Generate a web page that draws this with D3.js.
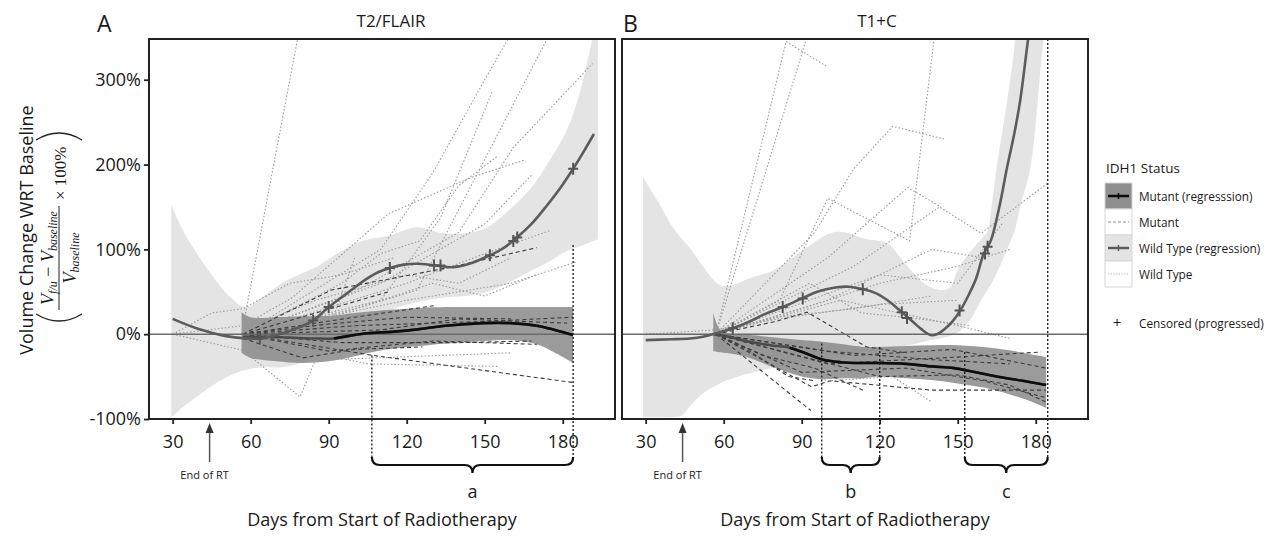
<!DOCTYPE html>
<html>
<head>
<meta charset="utf-8">
<title>Volume change by IDH1 status</title>
<script src="https://cdnjs.cloudflare.com/ajax/libs/d3/7.8.5/d3.min.js"></script>
<style>
    body { margin: 0; background: #fff; }
    svg text { font-family: "Open Sans", "Noto Sans", sans-serif; fill: #1a1a1a; }
</style>
</head>
<body>
<svg id="chart" width="1269" height="536"></svg>
<script>
// axis ticks
var xTicks = [30, 60, 90, 120, 150, 180];
var yTicks = [-100, 0, 100, 200, 300];
var yTickLabels = ['-100%', '0%', '100%', '200%', '300%'];

var panelLetters = ['A', 'B'];
var panelTitles = ['T2/FLAIR', 'T1+C'];
var endOfRT = 44.2;

// ---- panel A : T2/FLAIR ----  [day, percent]
var wtFitA = [[30,18],[40,6],[50,-2],[58,-5],[64,-5],[70,-1],[77,6],[84,16],[90,32],[97,48],[104,64],[109,73],[113.5,78],[119,82],[124,83],[131,81],[138,79],[145,84],[152,93],[157,101],[162,113],[168,130],[174,152],[179,172],[184,195],[188,215],[192,236]];
// [day, lower, upper]
var wtBandA = [[29.5,-98,153],[33.5,-87,125],[40,-72,92],[46.5,-58,64],[52,-49,44],[58,-42,32],[65,-39,45],[72,-39,60],[80,-33,72],[85,-25,79],[95,-5,98],[103,12,110],[113,28,116],[124,38,126],[134,43,119],[145,46,120],[151,50,126],[160,62,148],[168,75,173],[175,86,205],[181.5,98,240],[187,104,290],[193.5,112,380]];
var mutFitA = [[57,-3],[65,-3],[75,-4],[85,-5],[92,-5],[98,-2],[105,1],[115,3],[125,6],[135,10],[149,13],[160,13],[170,10],[177,5],[184,-1]];
var mutBandA = [[56.5,-22,26],[60,-28,20],[70,-32,20],[80,-34,21],[92,-31,22],[100,-26,25],[107,-21,27],[115,-17,29],[125,-14,31],[135,-11,32],[150,-8,32],[160,-7,32],[170,-12,32],[177,-22,32],[184,-34,32]];
var censorA = [[63.5,-5],[84,16],[90,32],[113.5,78],[130.5,81],[133,81],[152,93],[161,110],[162.5,114],[184,195]];
var wtLinesA = [
    [[56.5,0],[80,380]],
    [[30,0],[57,-19],[79,-74],[93,30],[100,90]],
    [[30,0],[57,10],[76,43],[113,142],[145,185],[165,205]],
    [[57,0],[90,20],[124,52],[176,360]],
    [[57,0],[90,25],[110,40],[133,137],[153,287]],
    [[57,0],[100,50],[140,120],[161,220],[191.5,319]],
    [[57,0],[110,60],[150,130],[168.5,189]],
    [[57,0],[120,60],[150,95],[175,122]],
    [[57,5],[85,40],[120,70],[140,60],[160,90]],
    [[57,0],[90,-30],[160,-22]],
    [[57,-5],[105,-35],[155,-38]],
    [[30,0],[45,25],[57,30],[75,60],[95,70],[115,90]],
    [[57,0],[95,60],[110,95],[125,110],[140,175],[155,210]],
    [[57,0],[120,40],[160,60],[185,85]],
    [[57,0],[110,100],[130,190],[150,300],[165,380]],
    [[57,0],[100,30],[130,60],[150,45],[170,70]]
];
var mutLinesA = [
    [[57,0],[107,-25],[184,-57]],
    [[57,0],[91,52],[137,79],[170,102]],
    [[57,0],[113,50]],
    [[57,0],[100,20],[131.5,34]],
    [[57,0],[110,5],[140,18],[181.6,13]],
    [[57,0],[95,-10],[140,-10],[168,-8]],
    [[57,0],[90,-20],[130,-8],[170,-12]],
    [[57,-5],[80,-28],[100,-18],[126,-15]],
    [[57,0],[100,10],[150,15],[184,20]],
    [[57,0],[90,12],[120,20],[160,18]]
];
// [day, percent where the dotted guide starts]
var guidesA = [[106.6,-25],[184,105]];
var bracesA = [[106.6,184,'a']];

// ---- panel B : T1+C ----
var wtFitB = [[30,-7],[40,-6],[47,-5],[52,-3],[57,1],[63.5,7],[70,15],[76,24],[82.7,32],[90,42],[96,50],[103,55],[108,56],[113.5,53],[118,49],[123,40],[127,30],[130,22],[133,14],[136,6],[139.6,-1],[142,0],[145,6],[148,15],[151,28],[154,45],[157,65],[160,95],[162.7,110],[166,150],[169,197],[172,240],[174,275],[177,346],[179,390]];
var wtBandB = [[29,-98,185],[35,-98,155],[40,-98,128],[44,-96,112],[47,-85,102],[52,-70,80],[58.5,-58,58],[63.5,-52,58],[70,-46,66],[79,-40,75],[90,-34,98],[101,-28,119],[107,-25,120],[113.5,-22,113],[123,-18,107],[128,-15,90],[133,-12,72],[138,-8,58],[143.5,-5,52],[147,-2,55],[150,2,76],[155,18,98],[159,40,112],[161.5,52,122],[163,60,150],[165,72,197],[169,100,275],[171.5,119,330],[172,123,346],[174,150,400],[178,197,450],[183,346,500],[185,380,520]];
var mutFitB = [[56,0],[62,-3],[70,-9],[78,-13],[85.4,-16],[92,-23],[98,-30],[105,-33],[113.5,-34],[120,-34],[130,-35],[140,-38],[148.5,-40],[157,-45],[165,-50],[175,-55],[184,-60]];
var mutBandB = [[56,-20,25],[58,-21,8],[60,-22,2],[65,-24,0],[70,-28,-1],[80,-40,-4],[90,-50,-7],[98,-53,-9],[106,-52,-12],[113.5,-52,-15],[120,-50,-15],[130,-52,-14],[140,-54,-13],[150,-58,-13],[160,-63,-15],[170,-71,-19],[177,-78,-23],[184,-87,-27]];
var censorB = [[63.5,7],[82.7,32],[90.4,42],[113.5,53],[128.5,26],[130.5,19],[150.7,28],[160.5,95],[161.5,103]];
var wtLinesB = [
    [[57,0],[84,345],[100,315]],
    [[57,0],[95,380]],
    [[57,0],[81.5,40],[100,160],[131.5,110],[140.8,345]],
    [[57,0],[100,90],[130.8,173],[143.5,150]],
    [[57,0],[110,80],[143,150],[159,119],[184.6,178]],
    [[57,0],[100,40],[140,100],[160,90]],
    [[57,0],[90,30],[120,60],[150,80],[170,100]],
    [[57,0],[93,60],[113,25],[130,20],[155,10]],
    [[30,0],[57,0],[80,20],[110,30],[140,45]],
    [[57,0],[80,-40],[100,-55],[125,-50],[140,-80]],
    [[30,0],[57,5],[85,20],[120,35],[150,40]],
    [[57,0],[95,120],[110,195],[125,245],[145,230]],
    [[57,0],[105,40],[150,10],[170,-5]],
    [[57,0],[120,70],[150,60],[167,130]]
];
var mutLinesB = [
    [[57,0],[93.5,-90]],
    [[57,0],[75,-25],[95,-40],[113.5,-66]],
    [[57,0],[93.7,-62],[101,-55],[140,-66],[184,-66]],
    [[57,0],[80,15],[92,26],[115,-15],[130,-22]],
    [[57,0],[100,-35],[150,-27],[182,-21]],
    [[57,0],[110,-25],[148,-18],[184,-40]],
    [[57,0],[90,-45],[130,-40],[160,-55],[184,-75]],
    [[57,0],[100,-20],[140,-30],[170,-35]],
    [[57,0],[70,-20],[85,-50],[95,-55]],
    [[57,0],[120,-50],[150,-48],[170,-60],[184,-80]]
];
var guidesB = [[97.7,-11],[120,-15],[152.7,-21],[184.6,348]];
var bracesB = [[97.7,120,'b'],[152.7,184.6,'c']];

// legend
var legendTitle = 'IDH1 Status';
var legendLabels = ['Mutant (regresssion)', 'Mutant', 'Wild Type (regression)', 'Wild Type'];
var censorLabel = 'Censored (progressed)';

var svg = d3.select('#chart');

var plotTop = 39;
var plotW = 466;
var plotH = 380;
var braceY = 457;

var x = d3.scaleLinear().domain([20.9, 200.1]).range([0, plotW]);
var y = d3.scaleLinear().domain([-100, 348]).range([plotH, 0]);

var line = d3.line().x(function (d) { return x(d[0]); }).y(function (d) { return y(d[1]); });
var smooth = d3.line().curve(d3.curveCatmullRom).x(function (d) { return x(d[0]); }).y(function (d) { return y(d[1]); });
var band = d3.area().curve(d3.curveCatmullRom)
    .x(function (d) { return x(d[0]); })
    .y0(function (d) { return y(d[1]); })
    .y1(function (d) { return y(d[2]); });

var panels = [
    {left: 149, id: 'clipA', titleX: 242, wtFit: wtFitA, wtBand: wtBandA, mutFit: mutFitA, mutBand: mutBandA,
        censor: censorA, wtLines: wtLinesA, mutLines: mutLinesA, guides: guidesA, braces: bracesA, blackFrom: 92},
    {left: 622, id: 'clipB', titleX: 255, wtFit: wtFitB, wtBand: wtBandB, mutFit: mutFitB, mutBand: mutBandB,
        censor: censorB, wtLines: wtLinesB, mutLines: mutLinesB, guides: guidesB, braces: bracesB, blackFrom: 84}
];

var defs = svg.append('defs');

panels.forEach(function (p, i) {
    var g = svg.append('g').attr('transform', 'translate(' + p.left + ',' + plotTop + ')');

    defs.append('clipPath').attr('id', p.id)
        .append('rect').attr('width', plotW).attr('height', plotH);

    var plot = g.append('g').attr('clip-path', 'url(#' + p.id + ')');

    // ribbons
    plot.append('path').datum(p.wtBand).attr('d', band).attr('fill', '#e4e4e4');
    plot.append('path').datum(p.mutBand).attr('d', band).attr('fill', '#858585').attr('opacity', 0.82);

    // individual patients
    plot.selectAll('.wt').data(p.wtLines).join('path')
        .attr('d', line).attr('fill', 'none')
        .attr('stroke', '#9a9a9a').attr('stroke-width', 1.1).attr('stroke-dasharray', '1.5,2');
    plot.selectAll('.mut').data(p.mutLines).join('path')
        .attr('d', line).attr('fill', 'none')
        .attr('stroke', '#3c3c3c').attr('stroke-width', 1.1).attr('stroke-dasharray', '4,3');

    // zero line
    plot.append('line').attr('x1', 0).attr('x2', plotW).attr('y1', y(0)).attr('y2', y(0))
        .attr('stroke', '#6a6a6a').attr('stroke-width', 1.5);

    // regression lines
    plot.append('path').datum(p.mutFit).attr('d', smooth).attr('fill', 'none')
        .attr('stroke', '#4a4a4a').attr('stroke-width', 2.5);
    plot.append('path').datum(p.mutFit.filter(function (d) { return d[0] >= p.blackFrom; }))
        .attr('d', smooth).attr('fill', 'none').attr('stroke', '#0d0d0d').attr('stroke-width', 2.6);
    plot.append('path').datum(p.wtFit).attr('d', smooth).attr('fill', 'none')
        .attr('stroke', '#5c5c5c').attr('stroke-width', 2.6);

    // censored marks
    plot.selectAll('.cens').data(p.censor).join('path')
        .attr('d', function (d) {
            var cx = x(d[0]), cy = y(d[1]);
            return 'M' + (cx - 5) + ',' + cy + 'H' + (cx + 5) + 'M' + cx + ',' + (cy - 6) + 'V' + (cy + 6);
        })
        .attr('stroke', '#555').attr('stroke-width', 2).attr('fill', 'none');

    // dotted guides down to the braces
    g.selectAll('.guide').data(p.guides).join('line')
        .attr('x1', function (d) { return x(d[0]); }).attr('x2', function (d) { return x(d[0]); })
        .attr('y1', function (d) { return Math.max(0, y(d[1])); })
        .attr('y2', braceY - plotTop + 3)
        .attr('stroke', '#222').attr('stroke-width', 1.4).attr('stroke-dasharray', '2,2');

    // braces
    p.braces.forEach(function (b) {
        var x1 = x(b[0]), x2 = x(b[1]), xm = (x1 + x2) / 2, top = braceY - plotTop, h = 16, q = 8;
        g.append('path')
            .attr('d', 'M' + x1 + ',' + top + ' Q' + x1 + ',' + (top + q) + ' ' + (x1 + q) + ',' + (top + q) +
                ' L' + (xm - q) + ',' + (top + q) + ' Q' + xm + ',' + (top + q) + ' ' + xm + ',' + (top + h) +
                ' Q' + xm + ',' + (top + q) + ' ' + (xm + q) + ',' + (top + q) +
                ' L' + (x2 - q) + ',' + (top + q) + ' Q' + x2 + ',' + (top + q) + ' ' + x2 + ',' + top)
            .attr('fill', 'none').attr('stroke', '#111').attr('stroke-width', 2.2);
        g.append('text').text(b[2])
            .attr('x', xm).attr('y', 498 - plotTop)
            .attr('text-anchor', 'middle').attr('font-size', 18);
    });

    // border
    g.append('rect').attr('width', plotW).attr('height', plotH)
        .attr('fill', 'none').attr('stroke', '#222').attr('stroke-width', 2);

    // axes (y labels only on the first panel)
    var axes = [g.append('g').attr('transform', 'translate(0,' + plotH + ')')
        .call(d3.axisBottom(x).tickValues(xTicks).tickSize(5).tickPadding(11))];
    if (i === 0) {
        axes.push(g.append('g')
            .call(d3.axisLeft(y).tickValues(yTicks).tickSize(5).tickPadding(3)
                .tickFormat(function (d, k) { return yTickLabels[k]; })));
    }
    axes.forEach(function (a) {
        a.select('.domain').remove();
        a.selectAll('line').attr('stroke', '#222').attr('stroke-width', 1.8);
        a.selectAll('text').attr('font-size', 18).attr('fill', '#1a1a1a');
    });

    // end of RT arrow
    var ax = x(endOfRT);
    g.append('line').attr('x1', ax).attr('x2', ax).attr('y1', 462 - plotTop).attr('y2', 430 - plotTop)
        .attr('stroke', '#555').attr('stroke-width', 1.5);
    g.append('path')
        .attr('d', 'M' + (ax - 4) + ',' + (433 - plotTop) + 'L' + ax + ',' + (423 - plotTop) + 'L' + (ax + 4) + ',' + (433 - plotTop) + 'Z')
        .attr('fill', '#333');
    g.append('text').text('End of RT')
        .attr('x', ax - 5).attr('y', 479 - plotTop)
        .attr('text-anchor', 'middle').attr('font-size', 11);

    // titles
    g.append('text').text(panelTitles[i])
        .attr('x', p.titleX).attr('y', 27 - plotTop)
        .attr('text-anchor', 'middle').attr('font-size', 17);
    g.append('text').text(panelLetters[i])
        .attr('x', i === 0 ? -52 : 1).attr('y', 32 - plotTop)
        .attr('font-size', 23);
    g.append('text').text('Days from Start of Radiotherapy')
        .attr('x', plotW / 2).attr('y', 526 - plotTop)
        .attr('text-anchor', 'middle').attr('font-size', 18);
});

// y axis title
svg.append('text').text('Volume Change WRT Baseline')
    .attr('transform', 'translate(33,230) rotate(-90)')
    .attr('text-anchor', 'middle').attr('font-size', 18);

var f = svg.append('g').attr('transform', 'translate(60,228) rotate(-90)');
var serif = '"Liberation Serif", "DejaVu Serif", serif';
f.append('path').attr('d', 'M-86,-24 Q-100,-1 -86,22').attr('fill', 'none').attr('stroke', '#222').attr('stroke-width', 1.3);
f.append('path').attr('d', 'M88,-24 Q102,-1 88,22').attr('fill', 'none').attr('stroke', '#222').attr('stroke-width', 1.3);
var num = f.append('text').attr('x', -30).attr('y', -6).attr('text-anchor', 'middle')
    .style('font-family', serif).style('font-size', '18px');
num.append('tspan').text('V').style('font-style', 'italic');
num.append('tspan').text('f/u').style('font-style', 'italic').style('font-size', '12px').attr('dy', 3);
num.append('tspan').text(' \u2212 ').attr('dy', -3);
num.append('tspan').text('V').style('font-style', 'italic');
num.append('tspan').text('baseline').style('font-style', 'italic').style('font-size', '12px').attr('dy', 3);
f.append('line').attr('x1', -82).attr('x2', 22).attr('y1', -1).attr('y2', -1).attr('stroke', '#222').attr('stroke-width', 1);
var den = f.append('text').attr('x', -30).attr('y', 16).attr('text-anchor', 'middle')
    .style('font-family', serif).style('font-size', '18px');
den.append('tspan').text('V').style('font-style', 'italic');
den.append('tspan').text('baseline').style('font-style', 'italic').style('font-size', '12px').attr('dy', 3);
f.append('text').text('\u00d7 100%').attr('x', 28).attr('y', 6)
    .style('font-family', serif).style('font-size', '17px');

// legend
var lg = svg.append('g').attr('transform', 'translate(1105,0)');
lg.append('text').text(legendTitle).attr('x', 1).attr('y', 173).attr('font-size', 13.5);
var keyFill = ['#8f8f8f', '#ffffff', '#e4e4e4', '#ffffff'];
var keyStroke = ['#0d0d0d', '#888', '#5c5c5c', '#b5b5b5'];
var keyDash = [null, '3,2', null, '1.2,1.5'];
var keyWidth = [2.5, 1, 2.5, 1];
legendLabels.forEach(function (label, k) {
    var ry = 183 + k * 26;
    lg.append('rect').attr('x', 0).attr('y', ry).attr('width', 27).attr('height', 26)
        .attr('fill', keyFill[k]).attr('stroke', '#d6d6d6').attr('stroke-width', 1);
    lg.append('line').attr('x1', 3).attr('x2', 24).attr('y1', ry + 13).attr('y2', ry + 13)
        .attr('stroke', keyStroke[k]).attr('stroke-width', keyWidth[k]).attr('stroke-dasharray', keyDash[k]);
    if (k === 0 || k === 2) {
        lg.append('line').attr('x1', 13.5).attr('x2', 13.5).attr('y1', ry + 10).attr('y2', ry + 16)
            .attr('stroke', keyStroke[k]).attr('stroke-width', 1.5);
    }
    lg.append('text').text(label).attr('x', 34).attr('y', ry + 18).attr('font-size', 11.8);
});
lg.append('text').text('+').attr('x', 12).attr('y', 328).attr('text-anchor', 'middle').attr('font-size', 15).attr('fill', '#444');
lg.append('text').text(censorLabel).attr('x', 34).attr('y', 328).attr('font-size', 11.8);
</script>
</body>
</html>
